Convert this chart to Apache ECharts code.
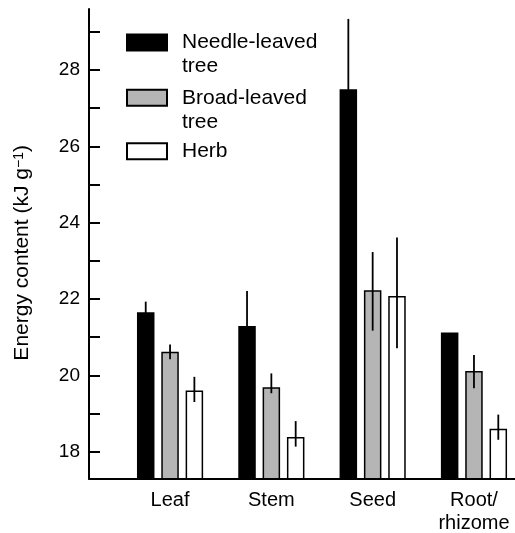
<!DOCTYPE html>
<html><head><meta charset="utf-8">
<script src="https://cdn.jsdelivr.net/npm/echarts@6/dist/echarts.min.js"></script>
<style>html,body{margin:0;padding:0;background:#fff}#c{width:515px;height:533px}</style>
</head><body><div id="c"></div>
<script>
const categories = ['Leaf', 'Stem', 'Seed', 'Root/\nrhizome'];
const seriesNames = ['Needle-leaved\ntree', 'Broad-leaved\ntree', 'Herb'];
const needleValues = [21.65, 21.29, 27.50, 21.12];
const needleErrUp = [0.28, 0.92, 1.84, 0];
const needleErrDown = [0.28, 0.92, 1.84, 0];
const broadValues = [20.62, 19.69, 22.23, 20.11];
const broadErrUp = [0.19, 0.36, 1.00, 0.42];
const broadErrDown = [0.20, 0.16, 1.06, 0.45];
const herbValues = [19.60, 18.38, 22.08, 18.60];
const herbErrUp = [0.36, 0.42, 1.53, 0.37];
const herbErrDown = [0.30, 0.25, 1.37, 0.29];
const yTickValues = [18, 19, 20, 21, 22, 23, 24, 25, 26, 27, 28, 29];
const yLabelValues = [18, 20, 22, 24, 26, 28];

const FONT = 'Liberation Sans';
const BAR_W = 17.5;
const GAP = 0.39;
const PITCH = BAR_W * (1 + GAP);
const fills = ['#000000', '#b5b5b5', '#ffffff'];
const valueSets = [needleValues, broadValues, herbValues];
const upSets = [needleErrUp, broadErrUp, herbErrUp];
const downSets = [needleErrDown, broadErrDown, herbErrDown];

const series = [];
valueSets.forEach((vals, k) => {
  series.push({
    type: 'bar', name: seriesNames[k],
    data: vals.map((v, i) => [i, v]),
    barWidth: BAR_W, barGap: (GAP * 100) + '%',
    itemStyle: { color: fills[k], borderColor: '#000', borderWidth: 1.5 },
    silent: true, z: 2
  });
});
valueSets.forEach((vals, k) => {
  series.push({
    type: 'custom', name: 'err' + k,
    data: vals.map((v, i) => [i, v - downSets[k][i], v + upSets[k][i]]),
    encode: { x: 0, y: [1, 2] },
    z: 10, silent: true,
    renderItem: function (params, api) {
      const x = api.value(0);
      const lo = api.coord([x, api.value(1)]);
      const hi = api.coord([x, api.value(2)]);
      const dx = (k - 1) * PITCH;
      return { type: 'line', shape: { x1: lo[0] + dx, y1: lo[1], x2: hi[0] + dx, y2: hi[1] },
        style: { stroke: '#000', lineWidth: 1.8 } };
    }
  });
});

const legTxt = { fontFamily: FONT, fontSize: 21, color: '#000', lineHeight: 24, padding: [0, 0, 0, 10] };
function leg(name, top, twoLine) {
  return {
    orient: 'vertical', left: 126, top: top, padding: 0,
    itemWidth: 40, itemHeight: 16, icon: 'rect', selectedMode: false,
    textStyle: legTxt,
    formatter: twoLine ? (n => '\n' + n) : (n => n),
    data: [name]
  };
}

const chart = echarts.init(document.getElementById('c'), null, { renderer: 'canvas' });
chart.setOption({
  animation: false,
  backgroundColor: '#fff',
  textStyle: { fontFamily: FONT },
  legend: [leg(seriesNames[0], 6.5, true), leg(seriesNames[1], 61.8, true), leg(seriesNames[2], 139.3, false)],
  grid: { left: 89, right: 0, top: 9, bottom: 54.3, outerBoundsMode: 'none', containLabel: false },
  xAxis: {
    type: 'value', min: -0.8, max: 3.405,
    axisLine: { show: true, onZero: false, lineStyle: { color: '#000', width: 2 } },
    axisTick: { show: false }, splitLine: { show: false },
    axisLabel: { customValues: [0, 1, 2, 3], formatter: v => categories[v], fontFamily: FONT,
      fontSize: 20, lineHeight: 23, color: '#000', margin: 10 }
  },
  yAxis: {
    type: 'value', min: 17.29, max: 29.6,
    axisLine: { show: true, onZero: false, lineStyle: { color: '#000', width: 2 } },
    axisTick: { show: true, customValues: yTickValues, inside: true, length: 11, lineStyle: { color: '#000', width: 2 } },
    axisLabel: { customValues: yLabelValues, fontFamily: FONT, fontSize: 19, color: '#000', margin: 9 },
    splitLine: { show: false },
    name: 'Energy content (kJ g{sup|−1})',
    nameLocation: 'middle', nameGap: 56, nameRotate: 90,
    nameTextStyle: { fontFamily: FONT, fontSize: 21, color: '#000', padding: [0, 18, 0, 0],
      rich: { sup: { fontFamily: FONT, fontSize: 14, verticalAlign: 'top', color: '#000' } } }
  },
  series: series
});
</script></body></html>
